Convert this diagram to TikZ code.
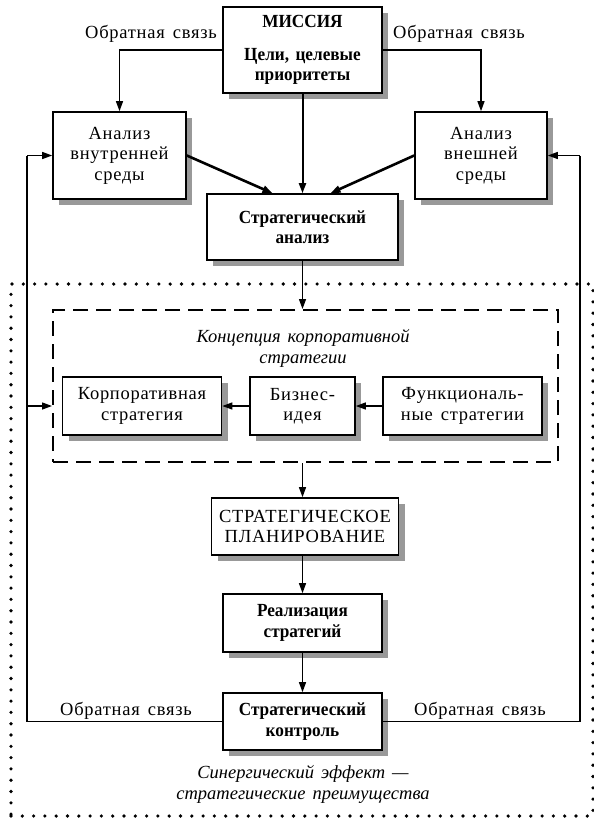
\documentclass[tikz,border=0pt]{standalone}
\usepackage{fontspec}
\setmainfont{Liberation Serif}[WordSpace=1.5,
  UprightFeatures={LetterSpace=4},
  BoldFeatures={FakeStretch=0.93},
  ItalicFeatures={LetterSpace=0}]
\usetikzlibrary{arrows.meta,shadows}
\begin{document}
\begin{tikzpicture}[x=1pt,y=-1pt,
  txt/.style={font=\fontsize{18.5}{20.5}\selectfont},
  box/.style={txt, draw, line width=1.6pt, fill=white, inner sep=0pt, align=center,
    general shadow={fill=black!40, shadow xshift=6pt, shadow yshift=-6pt}},
  bbox/.style={box, font=\fontsize{18.5}{20.5}\selectfont\bfseries},
  lbl/.style={txt, inner sep=0pt},
  ilbl/.style={txt, inner sep=0pt, align=center, font=\fontsize{18.5}{20.5}\selectfont\itshape},
  tip/.style={-{Triangle[length=10pt,width=7pt]}},
  conn/.style={tip, line width=1.3pt},
  thconn/.style={tip, line width=2pt},
  diag/.style={tip, line width=2.6pt},
  fb/.style={line width=1.3pt},
  dashedframe/.style={draw, line width=2pt, dash pattern=on 15pt off 8pt, inner sep=0pt},
  dotframe/.style={draw, line width=3.6pt, line cap=round, dash pattern=on 0pt off 11.3pt, inner sep=0pt}
]
\useasboundingbox (0,0) rectangle (594,819);

% outer dotted frame and dashed concept frame
\node[dotframe, minimum width=582pt, minimum height=532pt] (zone) at (302,550) {};
\node[dashedframe, minimum width=505pt, minimum height=152pt] (concept) at (305.5,386) {};

% boxes
\node[bbox, minimum width=159pt, minimum height=86pt] (mission) at (302.5,50)
  {МИССИЯ\\[12pt]Цели, целевые\\приоритеты};
\node[box, minimum width=133pt, minimum height=87pt] (inner) at (119.5,155.5)
  {Анализ\\внутренней\\среды};
\node[box, minimum width=132pt, minimum height=87pt] (outer) at (481,155.5)
  {Анализ\\внешней\\среды};
\node[bbox, minimum width=191pt, minimum height=66pt] (sa) at (302.5,227)
  {Стратегический\\анализ};

\node[ilbl] (ctitle) at (303,348.5) {Концепция корпоративной\\стратегии};
\node[box, minimum width=159pt, minimum height=58pt] (korp) at (142,406)
  {Корпоративная\\стратегия};
\node[box, minimum width=105pt, minimum height=58pt] (biz) at (302.5,406)
  {Бизнес-\\идея};
\node[box, minimum width=159pt, minimum height=58pt] (func) at (462.5,406)
  {Функциональ-\\ные стратегии};

\node[box, minimum width=187pt, minimum height=57pt] (plan) at (305,526.5)
  {СТРАТЕГИЧЕСКОЕ\\ПЛАНИРОВАНИЕ};
\node[bbox, minimum width=159pt, minimum height=58pt] (real) at (302.5,623)
  {Реализация\\стратегий};
\node[bbox, minimum width=159pt, minimum height=57pt] (ctrl) at (302.5,721.5)
  {Стратегический\\контроль};

\node[ilbl] (syn) at (303,784.5) {Синергический эффект —\\стратегические преимущества};

% labels
\node[lbl] (fbTL) at (151,34) {Обратная связь};
\node[lbl] (fbTR) at (459,34) {Обратная связь};
\node[lbl] (fbBL) at (126,711) {Обратная связь};
\node[lbl] (fbBR) at (480,711) {Обратная связь};

% connectors
\draw[conn] (mission.west) -| (inner.north);
\draw[conn] (mission.east) -| (outer.north);
\draw[thconn] (mission.south) -- (sa.north);
\draw[diag] (inner.east) -- ([xshift=-30pt]sa.north);
\draw[diag] (outer.west) -- ([xshift=28pt]sa.north);
\draw[conn] (sa.south) -- (sa.south |- concept.north);
\draw[conn] (biz.west) -- (korp.east);
\draw[conn] (func.west) -- (biz.east);
\draw[conn] (sa.south |- concept.south) -- (sa.south |- plan.north);
\draw[conn] (sa.south |- plan.south) -- (real.north);
\draw[conn] (real.south) -- (ctrl.north);

% feedback loops
\coordinate (lx) at (27,0);
\coordinate (rx) at (580,0);
\draw[fb] (ctrl.west) -- (ctrl.west -| lx) -- (lx |- inner.west);
\draw[conn] (lx |- inner.west) -- (inner.west);
\draw[conn] (lx |- korp.west) -- (concept.west |- korp.west);
\draw[fb] (ctrl.east) -- (ctrl.east -| rx) -- (rx |- outer.east);
\draw[conn] (rx |- outer.east) -- (outer.east);
\end{tikzpicture}
\end{document}
